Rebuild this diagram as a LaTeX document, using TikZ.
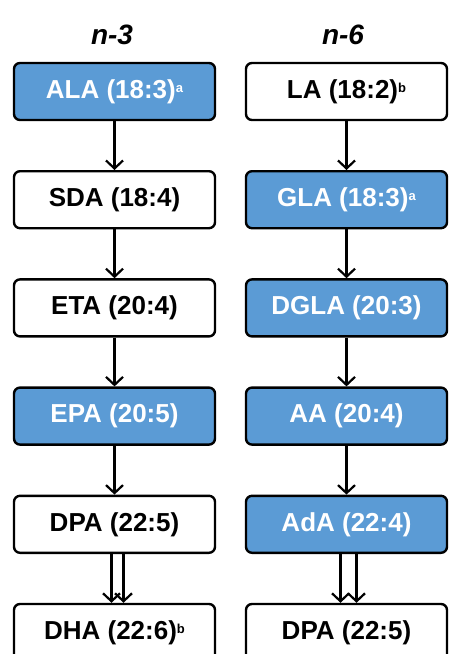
\documentclass[tikz,border=0pt]{standalone}
\usepackage{fontspec}
\setmainfont{Liberation Sans}
\usetikzlibrary{arrows.meta}
\definecolor{fablue}{HTML}{5B9BD5}
\newcommand{\fnote}[1]{\raisebox{6pt}{\fontsize{13}{13}\selectfont #1}}
\begin{document}
\begin{tikzpicture}[x=1pt, y=-1pt,
    acid/.style={rectangle, rounded corners=6pt, draw, line width=2.4pt,
        minimum width=201pt, minimum height=57pt, inner sep=0pt,
        font=\fontsize{26}{30}\selectfont\bfseries},
    hit/.style={acid, fill=fablue, text=white},
    head/.style={font=\fontsize{28}{30}\selectfont\bfseries\itshape},
    conv/.style={line width=2.4pt, -{Straight Barb[length=8pt,width=17pt,line width=2.2pt]}}
]
\useasboundingbox (0,0) rectangle (449,654);
% Titel
\node[head] (t3) at (112,35) {n-3};
\node[head] (t6) at (343,35) {n-6};

% n-3
\node[hit]  (ala) at (114.5,91.5) {ALA (18:3)\fnote{a}};
\node[acid] (sda) at (114.5,199.7) {SDA (18:4)};
\node[acid] (eta) at (114.5,307.9) {ETA (20:4)};
\node[hit]  (epa) at (114.5,416.1) {EPA (20:5)};
\node[acid] (dpa3) at (114.5,524.3) {DPA (22:5)};
\node[acid] (dha) at (114.5,632.5) {DHA (22:6)\fnote{b}};

% n-6
\node[acid] (la) at (346.5,91.5) {LA (18:2)\fnote{b}};
\node[hit]  (gla) at (346.5,199.7) {GLA (18:3)\fnote{a}};
\node[hit]  (dgla) at (346.5,307.9) {DGLA (20:3)};
\node[hit]  (aa) at (346.5,416.1) {AA (20:4)};
\node[hit]  (ada) at (346.5,524.3) {AdA (22:4)};
\node[acid] (dpa6) at (346.5,632.5) {DPA (22:5)};

\draw[conv] (ala) -- (sda);
\draw[conv] (sda) -- (eta);
\draw[conv] (eta) -- (epa);
\draw[conv] (epa) -- (dpa3);
\draw[conv] ([xshift=-3pt]dpa3.south) -- ([xshift=-3pt]dha.north);
\draw[conv] ([xshift=9pt]dpa3.south) -- ([xshift=9pt]dha.north);

\draw[conv] (la) -- (gla);
\draw[conv] (gla) -- (dgla);
\draw[conv] (dgla) -- (aa);
\draw[conv] (aa) -- (ada);
\draw[conv] ([xshift=-6pt]ada.south) -- ([xshift=-6pt]dpa6.north);
\draw[conv] ([xshift=10pt]ada.south) -- ([xshift=10pt]dpa6.north);
\end{tikzpicture}
\end{document}
